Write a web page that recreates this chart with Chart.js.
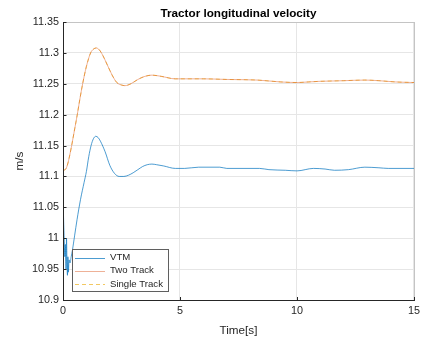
<!DOCTYPE html>
<html lang="en">
<head>
  <meta charset="UTF-8" />
  <title>Tractor longitudinal velocity</title>
  <script src="https://cdn.jsdelivr.net/npm/chart.js"></script>
  <style>
    html, body { margin: 0; padding: 0; background: #fff; }
    #wrap { width: 425px; height: 338px; position: relative; }
  </style>
</head>
<body>
  <div id="wrap"><canvas id="velocityChart" width="425" height="338"></canvas></div>

  <script>
    // Values
    const chartTitle = 'Tractor longitudinal velocity';
    const xTitle = 'Time[s]';
    const yTitle = 'm/s';
    const seriesNames = ['VTM', 'Two Track', 'Single Track'];
    const xTickValues = [0, 5, 10, 15];
    const yTickValues = [10.9, 10.95, 11, 11.05, 11.1, 11.15, 11.2, 11.25, 11.3, 11.35];

    // VTM (blue)
    const vtmTime = [0, 0.02, 0.05, 0.08, 0.1, 0.13, 0.15, 0.17, 0.19, 0.21, 0.23, 0.26, 0.3, 0.35, 0.4,
      0.5, 0.6, 0.75, 0.9, 1.0, 1.1, 1.2, 1.3, 1.4, 1.5, 1.6, 1.8, 2.0, 2.2, 2.4, 2.6, 2.8, 3.0, 3.2,
      3.4, 3.6, 3.8, 4.0, 4.3, 4.8, 5.2, 5.8, 6.7, 7.0, 8.4, 8.8, 9.5, 10.0, 10.7, 11.2, 11.6, 12.2,
      12.9, 13.5, 13.9, 15];
    const vtmSpeed = [11.09, 11.04, 11.0, 10.97, 10.99, 10.95, 11.0, 10.96, 10.94, 10.97, 10.945, 10.965, 10.96, 10.97, 10.98,
      11.005, 11.03, 11.063, 11.09, 11.108, 11.132, 11.15, 11.161, 11.165, 11.163, 11.157, 11.14, 11.118, 11.105, 11.1, 11.1, 11.102, 11.106, 11.111,
      11.116, 11.119, 11.12, 11.119, 11.117, 11.113, 11.113, 11.115, 11.115, 11.113, 11.113, 11.111, 11.11, 11.109, 11.113, 11.112, 11.11, 11.111,
      11.115, 11.114, 11.113, 11.113];

    // Two Track (orange) and Single Track (yellow dashed) overlap
    const trackTime = [0, 0.12, 0.2, 0.28, 0.37, 0.5, 0.61, 0.72, 0.84, 1.0, 1.18, 1.3, 1.42, 1.55, 1.7, 1.9,
      2.1, 2.3, 2.5, 2.65, 2.9, 3.2, 3.5, 3.8, 4.2, 4.8, 6.0, 7.0, 8.3, 9.3, 10.0, 10.5, 11.0, 12.0, 12.9,
      13.5, 14.2, 15];
    const twoTrackSpeed = [11.11, 11.112, 11.12, 11.133, 11.15, 11.177, 11.2, 11.225, 11.25, 11.278, 11.3, 11.306, 11.308, 11.305, 11.296, 11.28,
      11.264, 11.252, 11.248, 11.247, 11.25, 11.257, 11.262, 11.264, 11.262, 11.258, 11.258, 11.257, 11.256, 11.253, 11.252, 11.253, 11.254, 11.255, 11.256,
      11.255, 11.253, 11.252];
    const singleTrackSpeed = [11.11, 11.112, 11.12, 11.133, 11.15, 11.177, 11.2, 11.225, 11.25, 11.278, 11.3, 11.306, 11.308, 11.305, 11.296, 11.28,
      11.264, 11.252, 11.248, 11.247, 11.25, 11.257, 11.262, 11.264, 11.262, 11.258, 11.258, 11.257, 11.256, 11.253, 11.252, 11.253, 11.254, 11.255, 11.256,
      11.255, 11.253, 11.252];

    const FONT = "'Liberation Sans', Arial, Helvetica, sans-serif";
    const INK = '#262626';

    const pts = (xs, ys) => xs.map((x, i) => ({ x, y: ys[i] }));

    // title, axes box, inward ticks and the in-axes legend
    const matlabLook = {
      id: 'matlabLook',
      afterDraw(chart) {
        const { ctx, chartArea: a, scales } = chart;
        ctx.save();
        // title centred over the axes
        ctx.fillStyle = '#000';
        ctx.font = 'bold 11.7px ' + FONT;
        ctx.textAlign = 'center';
        ctx.textBaseline = 'middle';
        ctx.fillText(chartTitle, (a.left + a.right) / 2, 14);

        // box
        ctx.lineWidth = 1;
        ctx.strokeStyle = '#c4c4c4';
        ctx.beginPath();
        ctx.moveTo(a.left, a.top + 0.5); ctx.lineTo(a.right + 0.5, a.top + 0.5);
        ctx.moveTo(a.right + 0.5, a.top); ctx.lineTo(a.right + 0.5, a.bottom);
        ctx.stroke();
        ctx.strokeStyle = INK;
        ctx.beginPath();
        ctx.moveTo(a.left + 0.5, a.top); ctx.lineTo(a.left + 0.5, a.bottom + 0.5);
        ctx.lineTo(a.right + 1, a.bottom + 0.5);
        // inward ticks
        xTickValues.forEach(v => {
          const px = Math.round(scales.x.getPixelForValue(v)) + 0.5;
          ctx.moveTo(px, a.bottom); ctx.lineTo(px, a.bottom - 3);
        });
        yTickValues.forEach(v => {
          const py = Math.round(scales.y.getPixelForValue(v)) + 0.5;
          ctx.moveTo(a.left, py); ctx.lineTo(a.left + 3.5, py);
        });
        ctx.stroke();

        // legend
        const lx = 72, ly = 249, lw = 96, lh = 42;
        ctx.fillStyle = '#fff';
        ctx.fillRect(lx, ly, lw, lh);
        ctx.strokeStyle = '#5f5f5f';
        ctx.strokeRect(lx + 0.5, ly + 0.5, lw, lh);
        const rows = [257.5, 270.5, 284];
        ctx.font = '9.6px ' + FONT;
        ctx.textAlign = 'left';
        chart.data.datasets.forEach(ds => {
          const idx = seriesNames.indexOf(ds.label);
          const y = Math.round(rows[idx]) + 0.5;
          ctx.strokeStyle = ds.borderColor;
          ctx.lineWidth = 1;
          ctx.setLineDash(ds.borderDash || []);
          ctx.beginPath();
          ctx.moveTo(75, y); ctx.lineTo(105, y);
          ctx.stroke();
          ctx.setLineDash([]);
          ctx.fillStyle = INK;
          ctx.fillText(ds.label, 110, rows[idx]);
        });
        ctx.restore();
      }
    };

    new Chart(document.getElementById('velocityChart'), {
      type: 'line',
      data: {
        datasets: [
          {
            label: seriesNames[1],
            data: pts(trackTime, twoTrackSpeed),
            borderColor: 'rgba(217,83,25,0.45)',
            borderWidth: 1,
            pointRadius: 0,
            cubicInterpolationMode: 'monotone'
          },
          {
            label: seriesNames[2],
            data: pts(trackTime, singleTrackSpeed),
            borderColor: 'rgba(237,177,32,0.7)',
            borderWidth: 1,
            borderDash: [4, 3],
            pointRadius: 0,
            cubicInterpolationMode: 'monotone'
          },
          {
            label: seriesNames[0],
            data: pts(vtmTime, vtmSpeed),
            borderColor: 'rgba(0,114,189,0.7)',
            borderWidth: 1,
            pointRadius: 0,
            cubicInterpolationMode: 'monotone'
          }
        ]
      },
      options: {
        responsive: false,
        animation: false,
        layout: { padding: { top: 22, right: 10, left: 0, bottom: 0 } },
        plugins: { legend: { display: false }, tooltip: { enabled: false }, title: { display: false } },
        scales: {
          x: {
            type: 'linear',
            min: 0, max: 15,
            afterBuildTicks: s => { s.ticks = xTickValues.map(v => ({ value: v })); },
            afterFit: s => { s.height = 38; },
            grid: { color: '#e6e6e6', drawTicks: false },
            border: { display: false },
            ticks: { color: INK, font: { family: FONT, size: 10.8 }, padding: 5, maxRotation: 0,
              callback: v => String(v) },
            title: { display: true, text: xTitle, color: INK, font: { family: FONT, size: 11.7 }, padding: { top: 4, bottom: 0 } }
          },
          y: {
            type: 'linear',
            min: 10.9, max: 11.35,
            afterBuildTicks: s => { s.ticks = yTickValues.map(v => ({ value: v })); },
            afterFit: s => { s.width = 63; },
            grid: { color: '#e6e6e6', drawTicks: false },
            border: { display: false },
            ticks: { color: INK, font: { family: FONT, size: 10.8 }, padding: 4,
              callback: v => String(Number(v.toFixed(2))) },
            title: { display: true, text: yTitle, color: INK, font: { family: FONT, size: 11.7 }, padding: { top: 13, bottom: 0 } }
          }
        }
      },
      plugins: [matlabLook]
    });
  </script>
</body>
</html>
